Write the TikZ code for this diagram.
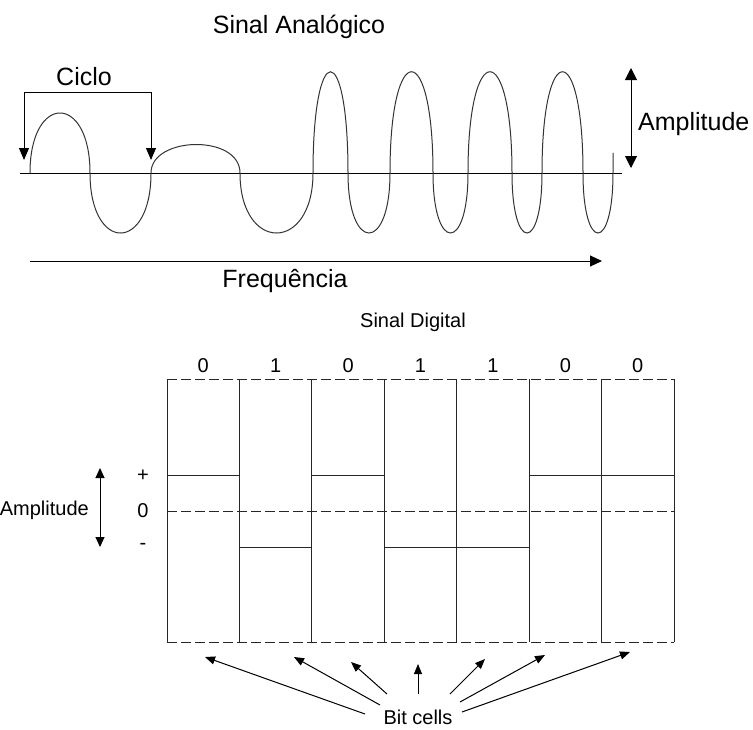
\documentclass[tikz,border=0pt]{standalone}
\usepackage{fontspec}
\setmainfont{Liberation Sans}
\usetikzlibrary{arrows.meta}

\tikzset{
  wave/.style={line width=1pt, black!80, line cap=round},
  cellline/.style={line width=1pt, black!85},
  griddash/.style={line width=1pt, black!85, dash pattern=on 10pt off 4pt},
  bigtip/.style={-{Triangle[width=11pt,length=12pt]}},
  smalltip/.style={-{Triangle[width=8pt,length=10pt]}},
  bigtext/.style={inner sep=0pt, font=\fontsize{25}{29}\selectfont},
  smalltext/.style={inner sep=0pt, font=\fontsize{20}{24}\selectfont},
}

\begin{document}
\begin{tikzpicture}[x=1pt, y=-1pt]
    \useasboundingbox (0,0) rectangle (753,729);

    % ---- analog signal ----
    \node[bigtext, anchor=base] (analogTitle) at (299,33) {Sinal Analógico};
    \node[bigtext, anchor=base] (cicloLabel) at (84,85) {Ciclo};

    \coordinate (cicloA) at (24,160);
    \coordinate (cicloB) at (24,92);
    \coordinate (cicloC) at (151,92);
    \coordinate (cicloD) at (151,160);
    \draw[line width=1pt, {Triangle[width=10pt,length=12pt]}-{Triangle[width=10pt,length=12pt]}]
        (cicloA) -- (cicloB) -- (cicloC) -- (cicloD);

    \coordinate (axisL) at (20,173);
    \coordinate (axisR) at (622,173);
    \draw[line width=1pt] (axisL) -- (axisR);

    % wave, lobe by lobe
    \draw[wave] (30,173) .. controls (30,93) and (90,93) .. (90,173)
        .. controls (90,253) and (151,253) .. (151,173)
        .. controls (151,136) and (240,134) .. (240,173)
        .. controls (240,253) and (313,253) .. (313,173);
    \foreach \xa/\xb/\cy in {313/348/38, 348/390/253, 390/433/38, 433/468/253,
                             468/512/38, 512/542/253, 542/583/38}{
        \draw[wave] (\xa,173) .. controls (\xa,\cy) and (\xb,\cy) .. (\xb,173);
    }
    \draw[wave] (583,173) .. controls (583,253) and (613,253) .. (613,173) -- (613,153);

    \coordinate (ampTop) at (631,68);
    \coordinate (ampBot) at (631,168);
    \draw[line width=1pt, {Triangle[width=12pt,length=12pt]}-{Triangle[width=12pt,length=12pt]}] (ampTop) -- (ampBot);
    \node[bigtext, anchor=base west] (ampLabel) at (638,130) {Amplitude};

    \coordinate (freqL) at (30,261);
    \coordinate (freqR) at (602,261);
    \draw[line width=1pt, bigtip] (freqL) -- (freqR);
    \node[bigtext, anchor=base] (freqLabel) at (285,287) {Frequência};

    % ---- digital signal ----
    \node[smalltext, anchor=base] (digitalTitle) at (413,327) {Sinal Digital};

    \foreach \i in {0,...,7}{
        \coordinate (top\i) at (167+\i*72.43,379);
        \coordinate (bot\i) at (167+\i*72.43,642);
        \draw[cellline] (top\i) -- (bot\i);
    }
    \draw[griddash] (top0) -- (top7);
    \draw[griddash] (bot0) -- (bot7);
    \draw[griddash] (167,511) -- (674,511);

    % bits and levels
    \foreach \b [count=\i from 0] in {0,1,0,1,1,0,0}{
        \node[smalltext, anchor=base] (bit\i) at (203.2+\i*72.43,372) {\b};
        \pgfmathsetmacro{\lvl}{\b==0 ? 475 : 547}
        \draw[cellline] (167+\i*72.43,\lvl) -- (167+\i*72.43+72.43,\lvl);
    }

    \node[smalltext] (plusLabel) at (143,476) {+};
    \node[smalltext] (zeroLabel) at (143,511) {0};
    \node[smalltext] (minusLabel) at (143,546) {-};

    \coordinate (dampTop) at (100,468);
    \coordinate (dampBot) at (100,547);
    \draw[line width=1pt, {Triangle[width=9pt,length=10pt]}-{Triangle[width=9pt,length=10pt]}] (dampTop) -- (dampBot);
    \node[smalltext, anchor=base east] (dampLabel) at (89,515) {Amplitude};

    % bit cell pointers
    \node[smalltext, anchor=base] (cellsLabel) at (418,724) {Bit cells};
    \foreach \tx/\ty/\hx/\hy [count=\k] in {365/714/205/657, 380/705/294/657,
            387/694/351/662, 418/694/418/664, 450/694/485/659,
            460/702/545/655, 462/712/630/652}{
        \coordinate (tail\k) at (\tx,\ty);
        \coordinate (head\k) at (\hx,\hy);
        \draw[line width=1pt, smalltip] (tail\k) -- (head\k);
    }
\end{tikzpicture}
\end{document}
